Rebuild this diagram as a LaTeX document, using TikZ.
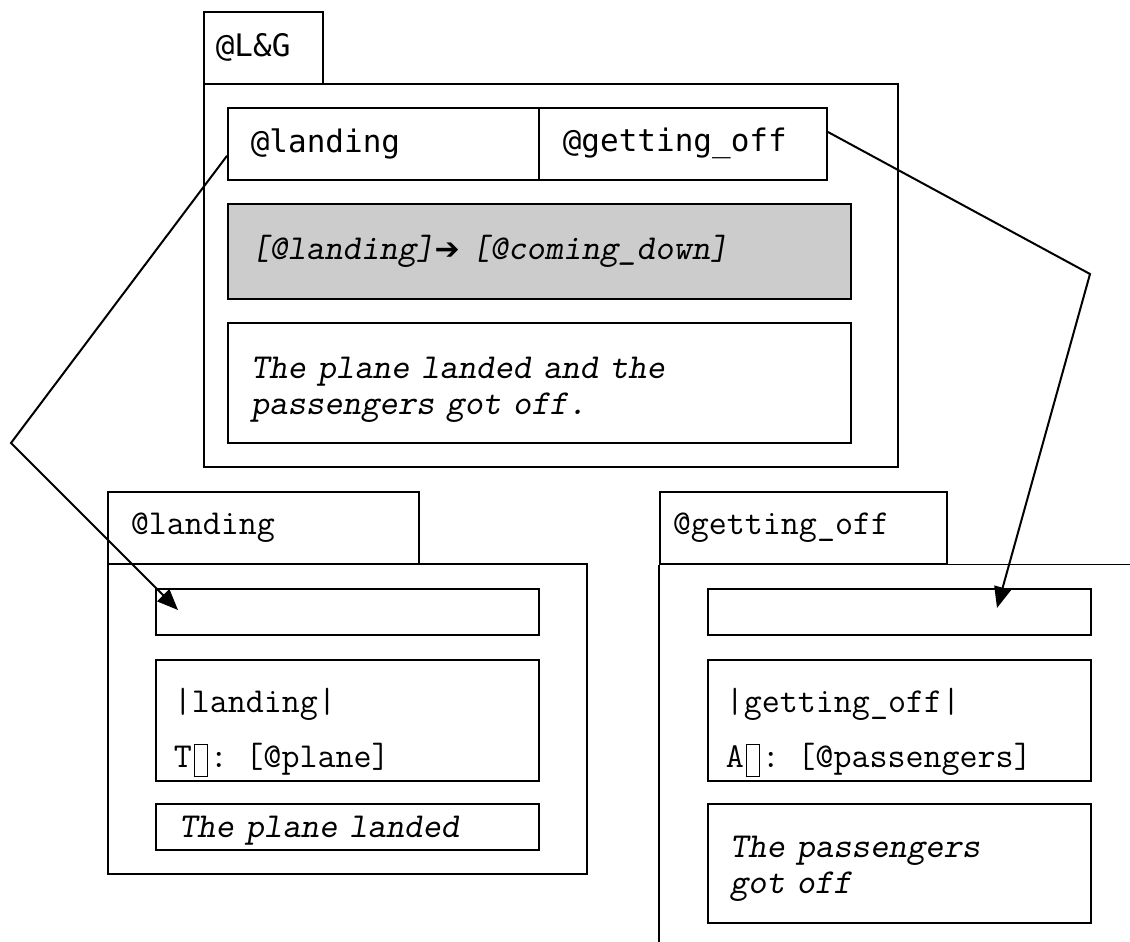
\documentclass[tikz,border=0pt]{standalone}
\usepackage{fontspec}
\setmainfont{Liberation Serif}
\newfontfamily\dvmono{DejaVu Sans Mono}
\newfontfamily\dvsans{DejaVu Sans}
\usetikzlibrary{arrows.meta,positioning,calc}
\newcommand\nobox{\hspace{0.05em}\raisebox{-0.26em}{\setlength{\fboxsep}{0pt}\setlength{\fboxrule}{1pt}\fbox{\rule{0pt}{0.9em}\hspace{0.36em}}}\hspace{0.05em}}

\begin{document}
\begin{tikzpicture}[x=1pt,y=-1pt,
box/.style={draw,line width=1.6pt,anchor=north west,inner xsep=23pt,inner ysep=0pt,align=left,font=\ttfamily\fontsize{35}{36}\selectfont},
tab/.style={box,inner xsep=12pt,font=\dvmono\fontsize{31}{36}\selectfont},
arr/.style={-{Triangle[length=21pt,width=17pt]},line width=2pt}]
\useasboundingbox (0,0) rectangle (1130,942);
\node[tab,minimum width=119,minimum height=72,text width=95] (lgtab) at (203,11) {@L\&G};
\node[box,minimum width=694,minimum height=383] (lgframe) at (203,83) {};
\node[box,minimum width=311,minimum height=72,text width=265,font=\dvmono\fontsize{31}{36}\selectfont] (lgland) at (227,107) {@landing};
\node[box,minimum width=288,minimum height=72,text width=240,font=\dvmono\fontsize{31}{36}\selectfont,inner xsep=24pt] (lgget) at (538,107) {@getting\_off};
\node[box,fill=black!20,minimum width=623,minimum height=95,text width=577] (lgrule) at (227,203) {\slshape [@landing]{\dvsans\upshape\bfseries\fontsize{30}{36}\selectfont ➔} [@coming\_down]};
\node[box,minimum width=623,minimum height=120,text width=577] (lgtext) at (227,322) {\slshape\rule{0pt}{36pt}The plane landed and the\\\slshape passengers got off.};

\node[box,minimum width=311,minimum height=72,text width=265] (ltab) at (107,491) {@landing};
\node[box,minimum width=479,minimum height=310] (lframe) at (107,563) {};
\node[box,minimum width=383,minimum height=46] (lslot) at (155,588) {};
\node[box,inner xsep=18pt,minimum width=383,minimum height=121,text width=347] (lhead) at (155,659) {\rule{0pt}{49pt}|landing|\\[19pt]T\nobox: [@plane]};
\node[box,minimum width=383,minimum height=46,text width=337] (lgloss) at (155,803) {\slshape\rule{0pt}{30pt}The plane landed};

\node[box,inner xsep=13pt,minimum width=287,minimum height=72,text width=261] (rtab) at (659,491) {@getting\_off};
\draw[line width=1.6pt] (rtab.south west) -- +(0,379);
\draw[line width=1.6pt] (rtab.south west) -- +(471,0);
\node[box,minimum width=383,minimum height=46] (rslot) at (707,588) {};
\node[box,inner xsep=18pt,minimum width=383,minimum height=121,text width=347] (rhead) at (707,659) {\rule{0pt}{49pt}|getting\_off|\\[19pt]A\nobox: [@passengers]};
\node[box,inner xsep=22pt,minimum width=383,minimum height=119,text width=339] (rgloss) at (707,803) {\slshape\rule{0pt}{33pt}The passengers\\\slshape got off};

\coordinate (lbend) at (11,443);
\coordinate (ltip) at (178,610);
\coordinate (rbend) at (1090,274);
\coordinate (rtip) at (997,608);
\draw[arr] ([yshift=-12pt]lgland.west) -- (lbend) -- (ltip);
\draw[arr] ([yshift=12pt]lgget.east) -- (rbend) -- (rtip);
\end{tikzpicture}
\end{document}
